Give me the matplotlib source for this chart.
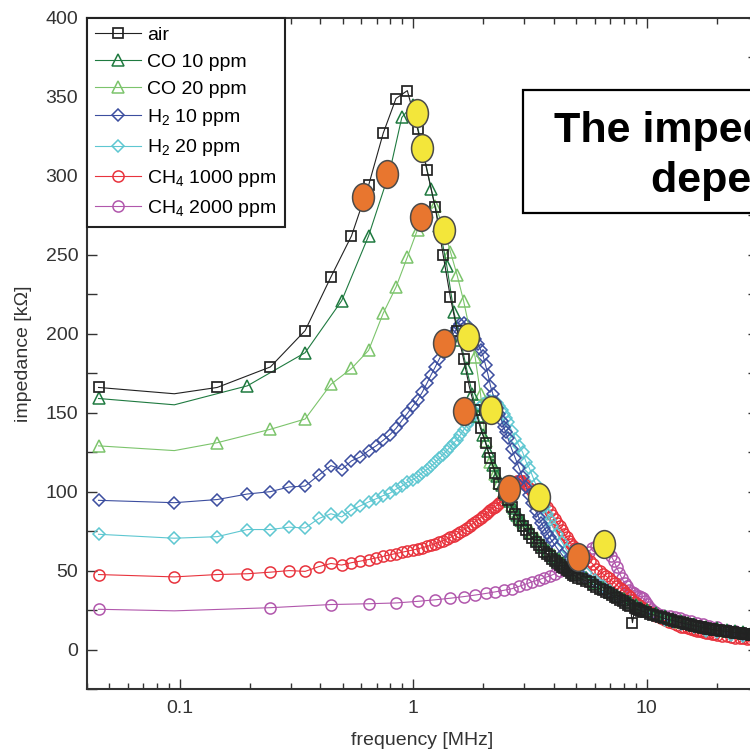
import matplotlib
matplotlib.use("Agg")
import matplotlib.pyplot as plt
import numpy as np
from matplotlib.path import Path
from matplotlib.patches import Rectangle
from matplotlib.ticker import FixedLocator, FixedFormatter, LogLocator, NullFormatter, MultipleLocator

plt.rcParams['font.family'] = ['Liberation Sans', 'DejaVu Sans']
plt.rcParams['mathtext.fontset'] = 'custom'
plt.rcParams['mathtext.rm'] = 'Liberation Sans'
plt.rcParams['mathtext.it'] = 'Liberation Sans:italic'

# ---- measured impedance spectra (frequency in MHz, impedance in kOhm) ----
f_air = [0.045, 0.095, 0.145, 0.245, 0.345, 0.445, 0.545, 0.645, 0.745, 0.845,
         0.945, 1.045, 1.145, 1.245, 1.345, 1.445, 1.545, 1.645, 1.745, 1.845,
         1.945, 2.045, 2.145, 2.245, 2.345, 2.445, 2.545, 2.645, 2.745, 2.845,
         2.945, 3.045, 3.145, 3.245, 3.345, 3.445, 3.545, 3.645, 3.745, 3.845,
         3.945, 4.045, 4.145, 4.245, 4.345, 4.445, 4.545, 4.645, 4.745, 4.845,
         4.945,
         5.1, 5.3, 5.5, 5.7, 5.9, 6.1, 6.3, 6.5, 6.7, 6.9,
         7.1, 7.3, 7.5, 7.7, 7.9, 8.1, 8.3, 8.5, 8.7, 8.9,
         9.1, 9.3, 9.5, 9.7, 9.9,
         10.3, 10.7, 11.1, 11.5, 11.9, 12.3, 12.7, 13.1, 13.5, 13.9,
         14.3, 14.7, 15.1, 15.5, 15.9, 16.3, 16.7, 17.1, 17.5, 17.9,
         18.3, 18.7, 19.1, 19.5, 19.9,
         20.4, 20.9, 21.4, 21.9, 22.4, 22.9, 23.4, 23.9, 24.4, 24.9,
         25.4, 25.9, 26.4, 26.9, 27.4, 27.9, 28.4, 28.9, 29.4, 29.9]
z_air = [166, 162, 166, 179, 202, 236, 262, 294, 327, 349,
         354, 330, 304, 280, 250, 223, 202, 184, 166, 152,
         140, 131, 121, 112, 105, 99, 94.5, 90, 86, 82,
         78.5, 75.5, 73, 70.5, 68, 66, 64, 62, 60.5, 59,
         57.5, 56, 55, 53.5, 52.5, 51.5, 50.5, 49.5, 48.5, 47.5,
         46.5,
         45.5, 44.5, 43.5, 42.5, 41, 39.5, 38.5, 37.5, 36.5, 35.5,
         34.5, 33.5, 32.5, 31.5, 30.5, 29.5, 28.5, 27.5, 17, 26,
         25.5, 25, 24.5, 24, 23.5,
         22.5, 22, 21.2, 20.5, 19.8, 19.2, 18.7, 18.2, 17.7, 17.2,
         16.8, 16.4, 16, 15.6, 15.2, 14.8, 14.5, 14.2, 13.9, 13.6,
         13.3, 13, 12.8, 12.5, 12.3,
         12.1, 11.9, 11.7, 11.5, 11.3, 11.1, 10.9, 10.7, 10.6, 10.4,
         10.3, 10.1, 10, 9.8, 9.7, 9.5, 9.4, 9.2, 9.1, 9.0]

f_co10 = [0.045, 0.095, 0.195, 0.345, 0.495, 0.645, 0.795, 0.895, 0.995, 1.095,
          1.195, 1.295, 1.395, 1.495, 1.595, 1.695, 1.795, 1.895, 1.995,
          2.095, 2.195, 2.295, 2.395, 2.495, 2.595, 2.695, 2.795, 2.895, 2.995,
          3.2, 3.4, 3.6, 3.8, 4.0, 4.2, 4.4, 4.6, 4.8, 5.0,
          5.5, 6.0, 6.5, 7.0, 7.5, 8.0, 8.5, 9.0, 9.5, 10,
          11, 12, 13, 14, 15, 16, 18, 20, 22, 24, 26, 28, 30]
z_co10 = [159, 155, 167, 188, 221, 262, 303, 337, 345, 318,
          292, 268, 243, 214, 196, 178, 162, 148, 136,
          126, 117, 110, 104, 98.5, 94, 89.5, 85.5, 82, 79,
          74, 69.5, 66, 62.5, 59.5, 57, 54.5, 52.5, 50.5, 48.5,
          45, 42, 39, 36.5, 34, 32, 30, 28, 26.5, 25,
          23, 21, 19.5, 18, 17, 16, 14.5, 13.5, 12.5, 11.7, 11, 10.4, 9.8]

f_co20 = [0.045, 0.095, 0.145, 0.245, 0.345, 0.445, 0.545, 0.645, 0.745, 0.845,
          0.945, 1.045, 1.145, 1.245, 1.345, 1.445, 1.545, 1.645, 1.745, 1.845,
          1.945, 2.045, 2.145, 2.245, 2.345, 2.445, 2.545, 2.645, 2.745, 2.845,
          2.945, 3.2, 3.4, 3.6, 3.8, 4.0, 4.2, 4.4, 4.6, 4.8,
          5.0, 5.5, 6.0, 6.5, 7.0, 7.5, 8.0, 8.5, 9.0, 9.5,
          10, 11, 12, 13, 14, 15, 16, 18, 20, 22, 24, 26, 28, 30]
z_co20 = [129, 126, 131, 139.5, 146, 168, 178, 189.5, 213, 229.5,
          248.5, 266, 277, 281, 268, 252, 237, 221, 203, 185,
          162, 132, 119, 111, 105.5, 100.5, 96, 91.5, 87.5, 84,
          81, 75, 70.5, 66.5, 63, 60, 57.5, 55, 53, 51,
          49, 45, 42, 39, 36.5, 34, 32, 30, 28, 26.5,
          25, 22.5, 20.5, 19, 17.5, 16.5, 15.5, 14, 13, 12, 11.3, 10.6, 10, 9.5]

f_h2 = [0.045, 0.095, 0.145, 0.195, 0.245, 0.295, 0.345, 0.395, 0.445, 0.495,
        0.545, 0.595, 0.645, 0.695, 0.745, 0.795, 0.845, 0.895, 0.945, 0.995,
        1.045, 1.095, 1.145, 1.195, 1.245, 1.295, 1.345, 1.395, 1.445, 1.495,
        1.545, 1.595, 1.645, 1.695, 1.745, 1.795, 1.845, 1.895, 1.945, 1.995,
        2.045, 2.095, 2.145, 2.195, 2.245, 2.295, 2.345, 2.395, 2.445, 2.495,
        2.545, 2.645, 2.745, 2.845, 2.945, 3.045, 3.145, 3.245, 3.345, 3.445,
        3.545, 3.645, 3.745, 3.845, 3.945, 4.145, 4.345, 4.545, 4.745, 4.945,
        5.2, 5.5, 6, 6.5, 7, 7.5, 8, 9, 10, 11,
        12, 13, 14, 16, 18, 20, 23, 26, 30]
z_h2_10 = [94.5, 93, 95, 98.5, 100, 103, 103.5, 110.5, 116.5, 114,
           119.5, 122, 126, 129, 132.5, 136, 140, 145, 149.5, 154,
           158, 163, 168.5, 174, 179, 184, 188.5, 193, 197, 200.5,
           203.5, 206, 207, 205.5, 203, 200, 197, 193.5, 190, 186,
           180, 174, 167, 162, 157, 153, 149, 145, 141, 137.5,
           134, 127, 121, 115, 109, 103, 98, 93, 88, 84,
           80, 77, 74, 71, 68.5, 64, 60, 56.5, 53.5, 51,
           48, 45.5, 42, 39, 36, 33.5, 31, 27.5, 24.5, 22,
           20, 18.5, 17, 15, 13.5, 12.2, 10.8, 9.8, 8.8]
z_h2_20 = [73, 70.5, 71.5, 76, 76, 77.5, 77, 83, 86, 84,
           88.5, 91, 93.5, 95.5, 97.5, 99, 101.5, 103.5, 106, 107.5,
           109.5, 112, 114, 116, 118.5, 121, 123.5, 126, 128.5, 131,
           133, 136, 139, 142, 145, 147.5, 150, 152, 154, 155.5,
           156.5, 157, 157.5, 157.5, 157, 156, 154, 151.5, 149, 146.5,
           144, 138.5, 133.5, 129, 125, 119, 115, 110, 105, 100,
           96, 90.5, 86, 82, 78.5, 73, 68, 63, 59, 55.5,
           51.5, 48.5, 44, 40, 37, 34, 31.5, 27.5, 24, 21.5,
           19, 17.5, 16, 14, 12, 11, 9.5, 8.5, 7.5]

f_ch4_1000 = [0.045, 0.095, 0.145, 0.195, 0.245, 0.295, 0.345, 0.395, 0.445, 0.495,
              0.545, 0.595, 0.645, 0.695, 0.745, 0.795, 0.845, 0.895, 0.945, 0.995,
              1.045, 1.095, 1.145, 1.195, 1.245, 1.295, 1.345, 1.395, 1.445, 1.495,
              1.545, 1.595, 1.645, 1.695, 1.745, 1.795, 1.845, 1.895, 1.945, 1.995,
              2.045, 2.095, 2.145, 2.195, 2.245, 2.295, 2.345, 2.395, 2.445, 2.495,
              2.545, 2.595, 2.645, 2.695, 2.745, 2.795, 2.845, 2.895, 2.945, 2.995,
              3.045, 3.145, 3.245, 3.345, 3.445, 3.545, 3.645, 3.745, 3.845, 3.945,
              4.045, 4.145, 4.245, 4.345, 4.445, 4.545, 4.645, 4.745, 4.845, 4.945,
              5.1, 5.3, 5.5, 5.7, 5.9, 6.1, 6.3, 6.5, 6.7, 6.9,
              7.1, 7.3, 7.5, 7.7, 7.9, 8.1, 8.3, 8.5, 8.7, 8.9,
              9.1, 9.3, 9.5, 9.7, 9.9,
              10.5, 11, 11.5, 12, 12.5, 13, 13.5, 14, 14.5, 15,
              15.5, 16, 16.5, 17, 17.5, 18, 18.5, 19, 19.5, 20,
              21, 22, 23, 24, 25, 26, 27, 28, 29, 30]
z_ch4_1000 = [47.5, 46, 47.5, 48, 49, 50, 49.5, 52.5, 54.5, 53.5,
              55, 56, 57, 58, 59, 60, 60.8, 61.5, 62.3, 63,
              63.7, 64.5, 65.3, 66.2, 67, 68, 69, 70, 71, 72,
              73.2, 74.5, 75.8, 77, 78.3, 79.6, 81, 82.3, 83.5, 84.5,
              86, 87, 88.5, 89.5, 90.5, 91.5, 93, 94.5, 96, 97.5,
              99.5, 101.5, 103, 104.5, 105.5, 106.5, 107, 107, 106.5, 105.5,
              104.5, 102.5, 100.5, 98.5, 96.5, 94.5, 92.5, 90, 87.5, 85,
              82.5, 80, 78, 75.5, 73, 71, 69, 67, 65.5, 64,
              62, 60, 58, 56, 54, 51, 49.5, 48, 46.5, 45,
              43.5, 42, 40.5, 39, 37.5, 36, 34.5, 33, 31.5, 30,
              29, 28, 27, 26, 25,
              23, 21.5, 20, 18.5, 17.5, 16.5, 15.5, 14.5, 14, 13.5,
              13, 12.5, 12, 11.5, 11, 10.5, 10.2, 9.9, 9.6, 9.3,
              8.8, 8.4, 8, 7.6, 7.3, 7, 6.7, 6.4, 6.1, 5.8]

f_ch4_2000 = [0.045, 0.095, 0.245, 0.445, 0.645, 0.845, 1.045, 1.245, 1.445, 1.645,
              1.845, 2.045, 2.245, 2.445, 2.645, 2.845, 3.045, 3.245, 3.445, 3.645,
              3.845, 4.045, 4.245, 4.445, 4.645, 4.845, 5.045, 5.245, 5.445, 5.645,
              5.845, 6.045, 6.245, 6.445, 6.645, 6.845, 7.045, 7.245, 7.445, 7.645,
              7.845, 8.045, 8.245, 8.445, 8.645, 8.845, 9.045, 9.245, 9.445, 9.645,
              9.845, 10.045, 10.245, 10.445, 10.645, 10.845, 11.245, 11.645, 12.045, 12.645,
              13.245, 13.845, 14.645, 15.445, 16.445, 17.445, 18.5, 20, 22, 24,
              26, 28, 30]
z_ch4_2000 = [25.5, 24.5, 26.5, 28.5, 29, 29.5, 30.5, 31.5, 32.5, 33.5,
              34.5, 35.5, 36.5, 37.5, 38.5, 40, 41.5, 43, 44, 45.5,
              46.5, 48, 49.5, 51, 52.5, 54.5, 56, 58, 60, 62,
              64, 65.5, 66.5, 66.5, 65, 62.5, 59.5, 56, 52, 48.5,
              45, 42, 40, 38, 36.5, 35.5, 34.5, 34, 33.5, 32.5,
              31, 29, 27, 25.5, 24.5, 23.5, 22.5, 22, 21.5, 21,
              20.5, 20, 19, 18, 17, 16, 15, 14, 12.5, 11.5,
              10.5, 10, 9.5]

# highlighted points on the rising (orange) and falling (yellow) flanks
orange_f = [0.611, 0.774, 1.082, 1.357, 1.654, 2.577, 5.09]
orange_z = [286.5, 301, 274, 194, 151, 101.4, 58.3]
yellow_f = [1.040, 1.093, 1.357, 1.72, 2.158, 3.464, 6.58]
yellow_z = [340, 317.6, 265.6, 197.8, 151.5, 96.4, 66.6]

labels = ['air', 'CO 10 ppm', 'CO 20 ppm', r'H$_2$ 10 ppm', r'H$_2$ 20 ppm',
          r'CH$_4$ 1000 ppm', r'CH$_4$ 2000 ppm']
series = [(f_air, z_air), (f_co10, z_co10), (f_co20, z_co20), (f_h2, z_h2_10),
          (f_h2, z_h2_20), (f_ch4_1000, z_ch4_1000), (f_ch4_2000, z_ch4_2000)]
colors = ['#222222', '#1f7a40', '#7cc46c', '#3c4e9f', '#5ec7d1', '#e8333d', '#b157ac']
markers = ['s', '^', '^', 'D', 'D', 'o', 'o']
msizes = [7, 8.5, 8.5, 6, 6, 8, 8]
edge_w = [1.25, 1.1, 1.1, 1.1, 1.1, 1.1, 1.1]
skip_marker = [[1], [1], [1], [], [], [], [1]]

fig = plt.figure(figsize=(7.5, 7.52), dpi=100)
ax = fig.add_axes([86.6 / 750, 1 - 689 / 752, (758 - 86.6) / 750, (689 - 18) / 752])

handles = []
for i in reversed(range(len(series))):
    f, z = series[i]
    assert len(f) == len(z), labels[i]
    mk = [k for k in range(len(f)) if k not in skip_marker[i]]
    ln, = ax.plot(f, z, color=colors[i], lw=0.8, marker=markers[i], ms=msizes[i],
                  mfc='none', mec=colors[i], mew=edge_w[i], markevery=mk,
                  zorder=2 + (6 - i) * 0.1, label=labels[i])
    handles.append(ln)
handles = handles[::-1]

# tall elliptical highlight marker
circ = Path.unit_circle()
ell = Path(circ.vertices * np.array([1.0, 1.27]), circ.codes)
ax.plot(orange_f, orange_z, ls='none', marker=ell, ms=20, mfc='#e8762f', mec='#4a4a4a',
        mew=1.1, zorder=5)
ax.plot(yellow_f, yellow_z, ls='none', marker=ell, ms=20, mfc='#f3e63a', mec='#4a4a4a',
        mew=1.1, zorder=5)

ax.set_xscale('log')
ax.set_xlim(0.04, 30)
ax.set_ylim(-25, 400)
ax.xaxis.set_major_locator(FixedLocator([0.1, 1, 10]))
ax.xaxis.set_major_formatter(FixedFormatter(['0.1', '1', '10']))
ax.xaxis.set_minor_locator(LogLocator(base=10, subs=np.arange(2, 10)))
ax.xaxis.set_minor_formatter(NullFormatter())
ax.yaxis.set_major_locator(MultipleLocator(50))
ax.yaxis.set_minor_locator(MultipleLocator(25))

tc = '#333333'
fs = 14
ax.tick_params(which='both', direction='in', top=True, right=True, colors=tc,
               labelsize=fs, width=1.0)
ax.tick_params(axis='x', which='major', length=7, pad=8)
ax.tick_params(axis='x', which='minor', length=4)
ax.tick_params(axis='y', which='both', length=7, pad=6)
for s in ax.spines.values():
    s.set_color(tc)
    s.set_linewidth(1.5)

ax.set_xlabel('frequency [MHz]', fontsize=fs, color=tc, labelpad=10.5)
ax.set_ylabel('impedance [k\u03a9]', fontsize=fs, color=tc, labelpad=10)

leg = ax.legend(handles=handles, loc='upper left', bbox_to_anchor=(0, 1), borderaxespad=0,
                fancybox=False, edgecolor='#222222', framealpha=1, fontsize=fs,
                handlelength=2.4, handletextpad=0.3, borderpad=0.42, labelspacing=0.48,
                numpoints=1)
leg.get_frame().set_linewidth(1.5)
leg.set_zorder(10)

# caption box on the right
fig.patches.append(Rectangle((523 / 750, 1 - 213 / 752), 0.5, (213 - 90) / 752,
                             transform=fig.transFigure, facecolor='white',
                             edgecolor='black', lw=1.6, zorder=20))
fig.text(554 / 750, 1 - 142 / 752, 'The impedance peak shift', fontsize=31,
         fontweight='bold', va='baseline', ha='left', zorder=21)
fig.text(651 / 750, 1 - 192 / 752, 'dependence on gas', fontsize=31,
         fontweight='bold', va='baseline', ha='left', zorder=21)

fig.savefig('out.png', dpi=100)
